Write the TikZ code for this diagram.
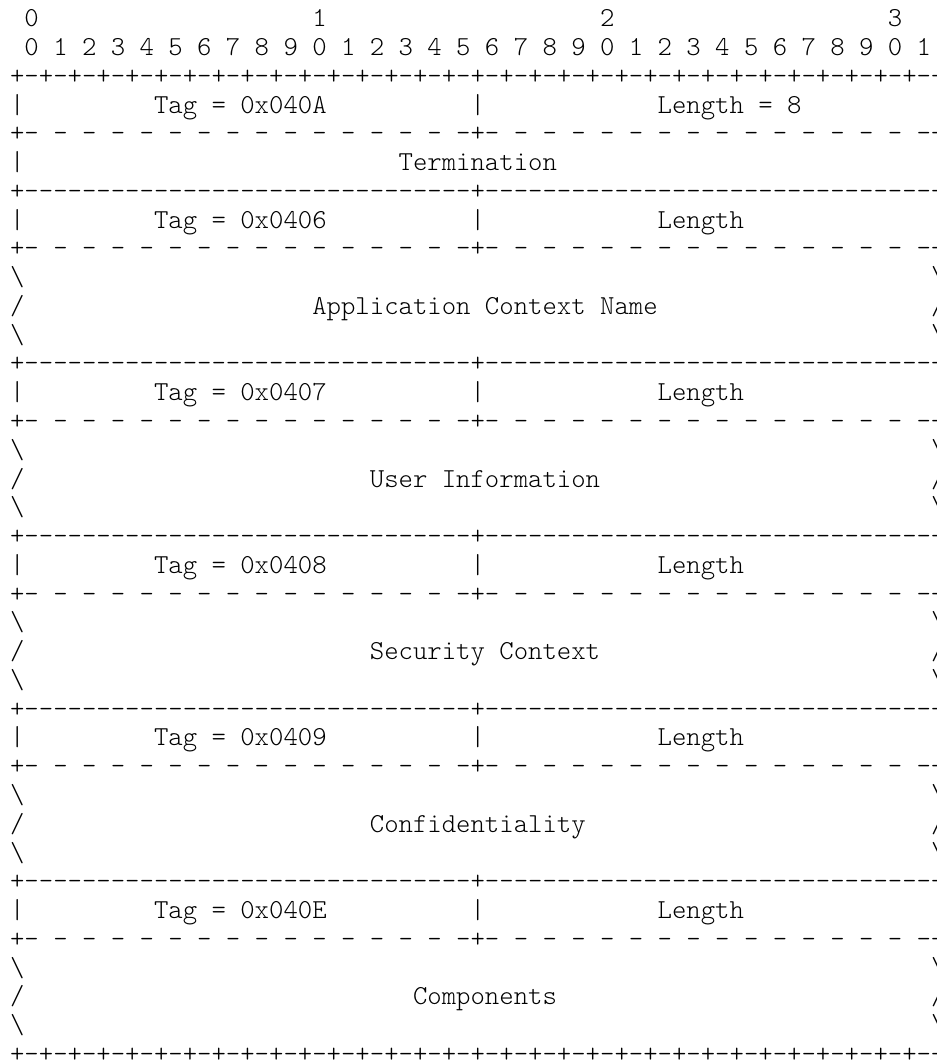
\documentclass[tikz,border=0pt]{standalone}
\usepackage{tikz}

\newcommand{\asciifont}{\fontsize{13.705pt}{14.385pt}\ttfamily\fontseries{l}\selectfont}
\tikzset{
	ascii/.style={font=\asciifont, anchor=base west, inner sep=0pt, outer sep=0pt},
}

\begin{document}
\begin{tikzpicture}[x=7.195pt, y=-14.385pt]
		\useasboundingbox (-0.702,-0.928) rectangle (64.41,35.95);
		\clip (-0.702,-0.928) rectangle (64.41,35.95);
		\node[ascii] (d0) at (1,0) {0};
		\node[ascii] (d1) at (21,0) {1};
		\node[ascii] (d2) at (41,0) {2};
		\node[ascii] (d3) at (61,0) {3};
		\node[ascii] (bits) at (1,1) {0 1 2 3 4 5 6 7 8 9 0 1 2 3 4 5 6 7 8 9 0 1 2 3 4 5 6 7 8 9 0 1};
		\node[ascii] (top) at (0,2) {+-+-+-+-+-+-+-+-+-+-+-+-+-+-+-+-+-+-+-+-+-+-+-+-+-+-+-+-+-+-+-+-+};
		\node[ascii] (b3a) at (0,3) {|};
		\node[ascii] (tag3) at (10,3) {Tag = 0x040A};
		\node[ascii] (b3b) at (32,3) {|};
		\node[ascii] (len3) at (45,3) {Length = 8};
		\node[ascii] (b3c) at (64,3) {|};
		\node[ascii] (dash4) at (0,4) {+- - - - - - - - - - - - - - - -+- - - - - - - - - - - - - - - -+};
		\node[ascii] (b5a) at (0,5) {|};
		\node[ascii] (term) at (27,5) {Termination};
		\node[ascii] (b5b) at (64,5) {|};
		\node[ascii] (sol6) at (0,6) {+-------------------------------+-------------------------------+};
		\node[ascii] (b7a) at (0,7) {|};
		\node[ascii] (tag7) at (10,7) {Tag = 0x0406};
		\node[ascii] (b7b) at (32,7) {|};
		\node[ascii] (len7) at (45,7) {Length};
		\node[ascii] (b7c) at (64,7) {|};
		\node[ascii] (dash8) at (0,8) {+- - - - - - - - - - - - - - - -+- - - - - - - - - - - - - - - -+};
		\node[ascii] (s9a) at (0,9) {\textbackslash};
		\node[ascii] (s9b) at (64,9) {\textbackslash};
		\node[ascii] (s10a) at (0,10) {/};
		\node[ascii] (app) at (21,10) {Application Context Name};
		\node[ascii] (s10b) at (64,10) {/};
		\node[ascii] (s11a) at (0,11) {\textbackslash};
		\node[ascii] (s11b) at (64,11) {\textbackslash};
		\node[ascii] (sol12) at (0,12) {+-------------------------------+-------------------------------+};
		\node[ascii] (b13a) at (0,13) {|};
		\node[ascii] (tag13) at (10,13) {Tag = 0x0407};
		\node[ascii] (b13b) at (32,13) {|};
		\node[ascii] (len13) at (45,13) {Length};
		\node[ascii] (b13c) at (64,13) {|};
		\node[ascii] (dash14) at (0,14) {+- - - - - - - - - - - - - - - -+- - - - - - - - - - - - - - - -+};
		\node[ascii] (s15a) at (0,15) {\textbackslash};
		\node[ascii] (s15b) at (64,15) {\textbackslash};
		\node[ascii] (s16a) at (0,16) {/};
		\node[ascii] (user) at (25,16) {User Information};
		\node[ascii] (s16b) at (64,16) {/};
		\node[ascii] (s17a) at (0,17) {\textbackslash};
		\node[ascii] (s17b) at (64,17) {\textbackslash};
		\node[ascii] (sol18) at (0,18) {+-------------------------------+-------------------------------+};
		\node[ascii] (b19a) at (0,19) {|};
		\node[ascii] (tag19) at (10,19) {Tag = 0x0408};
		\node[ascii] (b19b) at (32,19) {|};
		\node[ascii] (len19) at (45,19) {Length};
		\node[ascii] (b19c) at (64,19) {|};
		\node[ascii] (dash20) at (0,20) {+- - - - - - - - - - - - - - - -+- - - - - - - - - - - - - - - -+};
		\node[ascii] (s21a) at (0,21) {\textbackslash};
		\node[ascii] (s21b) at (64,21) {\textbackslash};
		\node[ascii] (s22a) at (0,22) {/};
		\node[ascii] (sec) at (25,22) {Security Context};
		\node[ascii] (s22b) at (64,22) {/};
		\node[ascii] (s23a) at (0,23) {\textbackslash};
		\node[ascii] (s23b) at (64,23) {\textbackslash};
		\node[ascii] (sol24) at (0,24) {+-------------------------------+-------------------------------+};
		\node[ascii] (b25a) at (0,25) {|};
		\node[ascii] (tag25) at (10,25) {Tag = 0x0409};
		\node[ascii] (b25b) at (32,25) {|};
		\node[ascii] (len25) at (45,25) {Length};
		\node[ascii] (b25c) at (64,25) {|};
		\node[ascii] (dash26) at (0,26) {+- - - - - - - - - - - - - - - -+- - - - - - - - - - - - - - - -+};
		\node[ascii] (s27a) at (0,27) {\textbackslash};
		\node[ascii] (s27b) at (64,27) {\textbackslash};
		\node[ascii] (s28a) at (0,28) {/};
		\node[ascii] (conf) at (25,28) {Confidentiality};
		\node[ascii] (s28b) at (64,28) {/};
		\node[ascii] (s29a) at (0,29) {\textbackslash};
		\node[ascii] (s29b) at (64,29) {\textbackslash};
		\node[ascii] (sol30) at (0,30) {+-------------------------------+-------------------------------+};
		\node[ascii] (b31a) at (0,31) {|};
		\node[ascii] (tag31) at (10,31) {Tag = 0x040E};
		\node[ascii] (b31b) at (32,31) {|};
		\node[ascii] (len31) at (45,31) {Length};
		\node[ascii] (b31c) at (64,31) {|};
		\node[ascii] (dash32) at (0,32) {+- - - - - - - - - - - - - - - -+- - - - - - - - - - - - - - - -+};
		\node[ascii] (s33a) at (0,33) {\textbackslash};
		\node[ascii] (s33b) at (64,33) {\textbackslash};
		\node[ascii] (s34a) at (0,34) {/};
		\node[ascii] (comp) at (28,34) {Components};
		\node[ascii] (s34b) at (64,34) {/};
		\node[ascii] (s35a) at (0,35) {\textbackslash};
		\node[ascii] (s35b) at (64,35) {\textbackslash};
		\node[ascii] (bot) at (0,36) {+-+-+-+-+-+-+-+-+-+-+-+-+-+-+-+-+-+-+-+-+-+-+-+-+-+-+-+-+-+-+-+-+};
	\end{tikzpicture}
\end{document}
